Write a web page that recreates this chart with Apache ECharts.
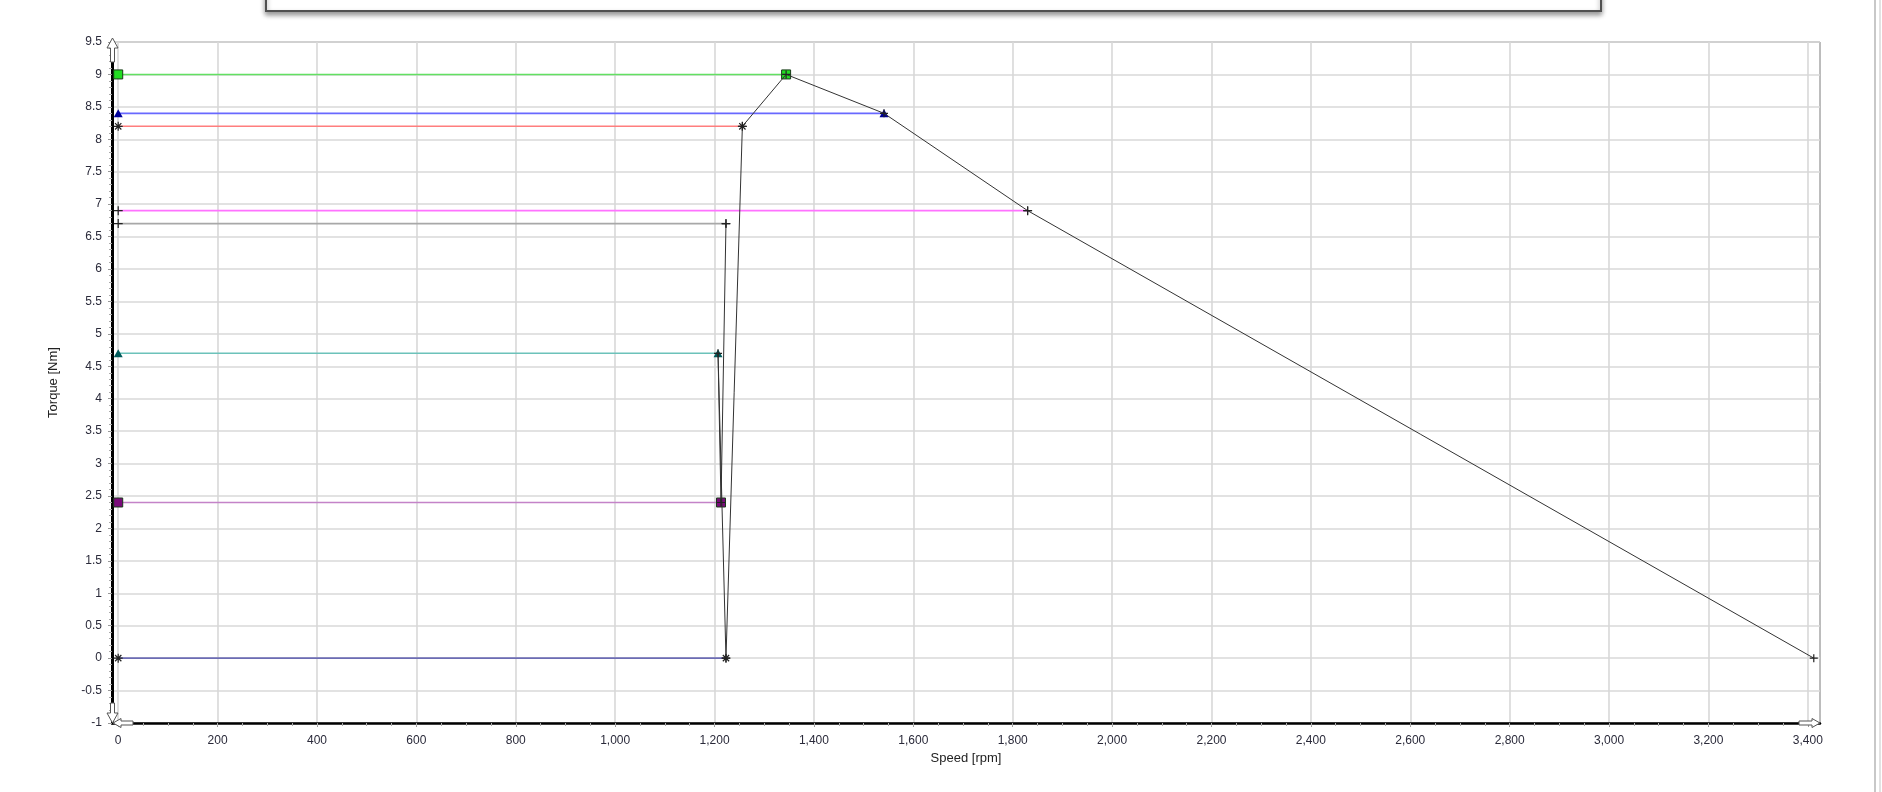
<!DOCTYPE html>
<html>
<head>
<meta charset="utf-8">
<script src="https://cdn.jsdelivr.net/npm/echarts@6/dist/echarts.min.js"></script>
<style>
html,body{margin:0;padding:0;background:#fff;}
#chart{width:1882px;height:792px;}
</style>
</head>
<body>
<div id="chart"></div>
<script>
// ---- data ----
const seriesNames = ['Peak', 'Limit A', 'Limit B', 'Limit C', 'Limit D', 'Limit E', 'Limit F', 'Zero'];
const levelTorque = [9.0, 8.4, 8.2, 6.9, 6.7, 4.7, 2.4, 0];
const levelStartSpeed = [0, 0, 0, 0, 0, 0, 0, 0];
const levelEndSpeed = [1344, 1541, 1256, 1830, 1223, 1207, 1213, 1223];
const lineColors = ['#62e062', '#6868ff', '#ff7e7e', '#ff72ff', '#a8a8a8', '#6cc2ba', '#c483c8', '#6c6cb4'];
const markerShapes = ['square', 'triUp', 'star', 'plus', 'plus', 'triUp', 'square', 'star'];
const markerFills = ['#22dd22', '#000099', '#222222', '#222222', '#222222', '#005a5a', '#7a0a7a', '#222222'];

const curveSpeed = [1223, 1213, 1207, 1223, 1256, 1344, 1541, 1830, 3412];
const curveTorque = [6.7, 2.4, 4.7, 0, 8.2, 9.0, 8.4, 6.9, 0];

const xTickLabels = [0, 200, 400, 600, 800, 1000, 1200, 1400, 1600, 1800, 2000, 2200, 2400, 2600, 2800, 3000, 3200, 3400];
const xMinorTicks = [0, 50, 100, 150, 200, 250, 300, 350, 400, 450, 500, 550, 600, 650, 700, 750, 800, 850, 900, 950, 1000, 1050, 1100, 1150, 1200, 1250, 1300, 1350, 1400, 1450, 1500, 1550, 1600, 1650, 1700, 1750, 1800, 1850, 1900, 1950, 2000, 2050, 2100, 2150, 2200, 2250, 2300, 2350, 2400, 2450, 2500, 2550, 2600, 2650, 2700, 2750, 2800, 2850, 2900, 2950, 3000, 3050, 3100, 3150, 3200, 3250, 3300, 3350, 3400];
const xRange = [-12.5, 3424.5];
const yRange = [-1, 9.5];

// ---- symbols ----
const SYM = {
  square: {symbol: 'rect', size: 9, stroke: true},
  triUp: {symbol: 'path://M5,0 L10,9 L0,9 Z', size: [9, 8], stroke: false},
  star: {symbol: 'path://M0,5 L10,5 M5,0 L5,10 M1.5,1.5 L8.5,8.5 M8.5,1.5 L1.5,8.5', size: 9, line: true},
  plus: {symbol: 'path://M0,5 L10,5 M5,0 L5,10', size: 9, line: true}
};
function markerStyle(shape, fill) {
  const s = SYM[shape];
  if (s.line) return {color: 'rgba(0,0,0,0)', borderColor: fill, borderWidth: 1.2};
  if (s.stroke) return {color: fill, borderColor: '#1a3a1a', borderWidth: 1};
  return {color: fill, borderWidth: 0};
}

const font = 'Liberation Sans, Arial, sans-serif';
const series = [];
levelTorque.forEach((t, i) => {
  const s = SYM[markerShapes[i]];
  series.push({
    name: seriesNames[i],
    type: 'line',
    xAxisIndex: 0,
    data: [[levelStartSpeed[i], t], [levelEndSpeed[i], t]],
    symbol: s.symbol,
    symbolSize: s.size,
    showSymbol: true,
    lineStyle: {color: lineColors[i], width: 1.6},
    itemStyle: markerStyle(markerShapes[i], markerFills[i]),
    animation: false,
    z: 3
  });
});
series.push({
  name: 'Curve',
  type: 'line',
  xAxisIndex: 0,
  data: curveSpeed.map((x, i) => [x, curveTorque[i]]),
  symbol: SYM.plus.symbol,
  symbolSize: 8,
  lineStyle: {color: '#333333', width: 1},
  itemStyle: {color: 'rgba(0,0,0,0)', borderColor: '#222', borderWidth: 1.2},
  animation: false,
  z: 4
});

const chart = echarts.init(document.getElementById('chart'), null, {renderer: 'canvas'});
const option = {
  backgroundColor: '#ffffff',
  animation: false,
  grid: {left: 112, right: 62, top: 42, bottom: 69, show: true, borderColor: '#7a7a7a', borderWidth: 1, containLabel: false},
  xAxis: [{
    type: 'value', min: xRange[0], max: xRange[1], position: 'bottom',
    name: 'Speed [rpm]', nameLocation: 'middle', nameGap: 29,
    nameTextStyle: {fontFamily: font, fontSize: 13, color: '#222'},
    axisLine: {show: true, onZero: false, lineStyle: {color: '#000', width: 2.5}},
    axisTick: {show: true, customValues: xTickLabels, length: 4, lineStyle: {color: '#999'}},
    axisLabel: {customValues: xTickLabels, margin: 12, fontFamily: font, fontSize: 12, color: '#2a2a3a',
      formatter: v => Number(v).toLocaleString('en-US')},
    splitLine: {show: true, lineStyle: {color: '#d8d8d8', width: 1.6}}
  }, {
    type: 'value', min: xRange[0], max: xRange[1], position: 'bottom',
    axisLine: {show: false, onZero: false},
    axisTick: {show: true, customValues: xMinorTicks, length: 3, lineStyle: {color: '#aaa'}},
    axisLabel: {show: false},
    splitLine: {show: false}
  }],
  yAxis: {
    type: 'value', min: yRange[0], max: yRange[1], interval: 0.5,
    name: 'Torque [Nm]', nameLocation: 'middle', nameGap: 52, nameRotate: 90,
    nameTextStyle: {fontFamily: font, fontSize: 13, color: '#222'},
    axisLine: {show: true, onZero: false, lineStyle: {color: '#000', width: 3}},
    axisTick: {show: true, length: 4, lineStyle: {color: '#999'}},
    minorTick: {show: true, splitNumber: 5, length: 3, lineStyle: {color: '#aaa'}},
    axisLabel: {margin: 10, fontFamily: font, fontSize: 12, color: '#2a2a3a'},
    splitLine: {show: true, lineStyle: {color: '#d8d8d8', width: 1.6}}
  },
  series: series,
  graphic: [
    {type: 'rect', shape: {x: 266, y: -30, width: 1335, height: 41}, style: {fill: '#fff', stroke: '#505050', lineWidth: 2, shadowBlur: 5, shadowOffsetY: 3, shadowColor: 'rgba(0,0,0,0.4)'}, z: 10},
    {type: 'line', shape: {x1: 1875, y1: 0, x2: 1875, y2: 792}, style: {stroke: '#c8c8c8', lineWidth: 2}},
    {type: 'line', shape: {x1: 1880, y1: 0, x2: 1880, y2: 792}, style: {stroke: '#e2e2e2', lineWidth: 2}},
    // axis scroll arrows (decoration)
    {type: 'polygon', shape: {points: [[112.5, 38], [118, 48], [114.5, 48], [114.5, 62], [110.5, 62], [110.5, 48], [107, 48]]}, style: {fill: '#fff', stroke: '#555', lineWidth: 1}, z: 20},
    {type: 'polygon', shape: {points: [[112.5, 723], [118, 713], [114.5, 713], [114.5, 703], [110.5, 703], [110.5, 713], [107, 713]]}, style: {fill: '#fff', stroke: '#555', lineWidth: 1}, z: 20},
    {type: 'polygon', shape: {points: [[113, 723], [121, 718.5], [121, 721], [133, 721], [133, 725], [121, 725], [121, 727.5]]}, style: {fill: '#fff', stroke: '#555', lineWidth: 1}, z: 20},
    {type: 'polygon', shape: {points: [[1820, 723], [1812, 718.5], [1812, 721], [1799, 721], [1799, 725], [1812, 725], [1812, 727.5]]}, style: {fill: '#fff', stroke: '#555', lineWidth: 1}, z: 20}
  ]
};
chart.setOption(option);
</script>
</body>
</html>
